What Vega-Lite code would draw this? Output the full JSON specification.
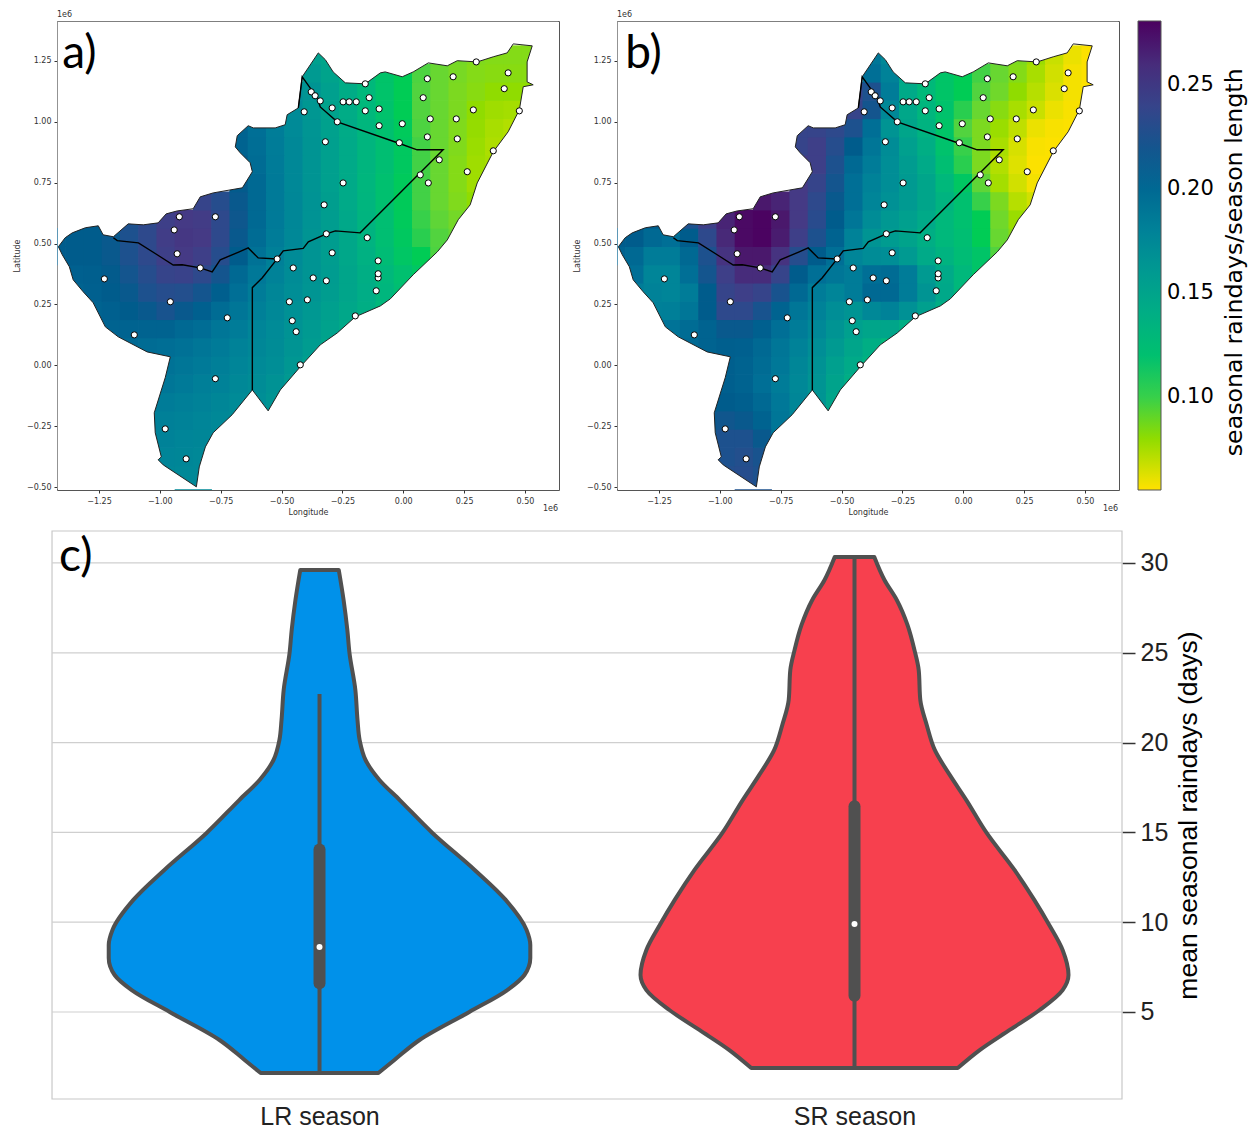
{
"$schema":"https://vega.github.io/schema/vega-lite/v6.json",
"padding":{"left":12,"top":10,"right":0,"bottom":0},
"background":"white",
"config":{"view":{"stroke":"#555555","strokeWidth":1},"axis":{"labelFont":"DejaVu Sans","titleFont":"DejaVu Sans"},"legend":{"labelFont":"DejaVu Sans","titleFont":"DejaVu Sans"}},
"datasets":{
"stations":[{"x":-0.920,"y":0.610},{"x":-0.772,"y":0.610},{"x":-0.941,"y":0.556},{"x":-0.929,"y":0.458},{"x":-0.834,"y":0.400},{"x":-0.518,"y":0.437},{"x":-0.452,"y":0.400},{"x":-1.228,"y":0.355},{"x":-0.957,"y":0.261},{"x":-0.723,"y":0.195},{"x":-1.105,"y":0.125},{"x":-0.772,"y":-0.055},{"x":-0.978,"y":-0.261},{"x":-0.892,"y":-0.384},{"x":-0.370,"y":0.359},{"x":-0.316,"y":0.347},{"x":-0.468,"y":0.261},{"x":-0.394,"y":0.269},{"x":-0.456,"y":0.183},{"x":-0.440,"y":0.138},{"x":-0.423,"y":0.002},{"x":-0.292,"y":0.462},{"x":-0.316,"y":0.540},{"x":-0.148,"y":0.524},{"x":-0.103,"y":0.429},{"x":-0.103,"y":0.359},{"x":-0.103,"y":0.376},{"x":-0.111,"y":0.306},{"x":-0.197,"y":0.203},{"x":-0.378,"y":1.123},{"x":-0.362,"y":1.107},{"x":-0.341,"y":1.086},{"x":-0.407,"y":1.041},{"x":-0.292,"y":1.057},{"x":-0.247,"y":1.082},{"x":-0.222,"y":1.082},{"x":-0.193,"y":1.082},{"x":-0.156,"y":1.156},{"x":-0.140,"y":1.099},{"x":-0.156,"y":1.045},{"x":-0.099,"y":1.053},{"x":-0.271,"y":1.000},{"x":-0.099,"y":0.984},{"x":-0.004,"y":0.992},{"x":-0.016,"y":0.914},{"x":-0.320,"y":0.918},{"x":0.099,"y":1.177},{"x":0.082,"y":1.099},{"x":0.111,"y":1.012},{"x":0.099,"y":0.938},{"x":0.205,"y":1.185},{"x":0.218,"y":1.012},{"x":0.288,"y":1.049},{"x":0.222,"y":0.930},{"x":0.300,"y":1.246},{"x":0.431,"y":1.201},{"x":0.415,"y":1.136},{"x":0.477,"y":1.045},{"x":0.370,"y":0.881},{"x":0.148,"y":0.844},{"x":0.070,"y":0.782},{"x":0.103,"y":0.749},{"x":0.263,"y":0.795},{"x":-0.247,"y":0.749},{"x":-0.325,"y":0.659}],
"outline":[{"i":0,"p":"o","x":-1.42,"y":0.487},{"i":1,"p":"c","x":-1.417,"y":0.487},{"i":2,"p":"c","x":-1.389,"y":0.524},{"i":3,"p":"c","x":-1.36,"y":0.544},{"i":4,"p":"c","x":-1.306,"y":0.565},{"i":5,"p":"c","x":-1.253,"y":0.573},{"i":6,"p":"c","x":-1.233,"y":0.536},{"i":7,"p":"c","x":-1.191,"y":0.528},{"i":8,"p":"c","x":-1.13,"y":0.581},{"i":9,"p":"c","x":-1.068,"y":0.577},{"i":10,"p":"c","x":-1.007,"y":0.585},{"i":11,"p":"c","x":-0.974,"y":0.622},{"i":12,"p":"c","x":-0.929,"y":0.634},{"i":13,"p":"c","x":-0.863,"y":0.643},{"i":14,"p":"c","x":-0.834,"y":0.692},{"i":15,"p":"c","x":-0.781,"y":0.708},{"i":16,"p":"c","x":-0.661,"y":0.729},{"i":17,"p":"c","x":-0.62,"y":0.795},{"i":18,"p":"c","x":-0.629,"y":0.832},{"i":19,"p":"c","x":-0.67,"y":0.873},{"i":20,"p":"c","x":-0.69,"y":0.897},{"i":21,"p":"c","x":-0.682,"y":0.943},{"i":22,"p":"c","x":-0.637,"y":0.984},{"i":23,"p":"c","x":-0.616,"y":0.975},{"i":24,"p":"c","x":-0.526,"y":0.975},{"i":25,"p":"c","x":-0.485,"y":0.988},{"i":26,"p":"c","x":-0.477,"y":1.029},{"i":27,"p":"c","x":-0.431,"y":1.057},{"i":28,"p":"c","x":-0.415,"y":1.185},{"i":29,"p":"c","x":-0.349,"y":1.283},{"i":30,"p":"c","x":-0.32,"y":1.255},{"i":31,"p":"c","x":-0.288,"y":1.205},{"i":32,"p":"c","x":-0.238,"y":1.16},{"i":33,"p":"c","x":-0.156,"y":1.156},{"i":34,"p":"c","x":-0.094,"y":1.201},{"i":35,"p":"c","x":-0.074,"y":1.205},{"i":36,"p":"c","x":-0.004,"y":1.185},{"i":37,"p":"c","x":0.041,"y":1.205},{"i":38,"p":"c","x":0.103,"y":1.242},{"i":39,"p":"c","x":0.181,"y":1.23},{"i":40,"p":"c","x":0.222,"y":1.251},{"i":41,"p":"c","x":0.304,"y":1.246},{"i":42,"p":"c","x":0.37,"y":1.267},{"i":43,"p":"c","x":0.427,"y":1.283},{"i":44,"p":"c","x":0.452,"y":1.32},{"i":45,"p":"c","x":0.53,"y":1.312},{"i":46,"p":"c","x":0.509,"y":1.246},{"i":47,"p":"c","x":0.509,"y":1.164},{"i":48,"p":"c","x":0.534,"y":1.152},{"i":49,"p":"c","x":0.493,"y":1.144},{"i":50,"p":"c","x":0.477,"y":1.049},{"i":51,"p":"c","x":0.431,"y":0.959},{"i":52,"p":"c","x":0.37,"y":0.877},{"i":53,"p":"c","x":0.304,"y":0.749},{"i":54,"p":"c","x":0.275,"y":0.659},{"i":55,"p":"c","x":0.226,"y":0.598},{"i":56,"p":"c","x":0.181,"y":0.515},{"i":57,"p":"c","x":0.14,"y":0.466},{"i":58,"p":"c","x":0.041,"y":0.372},{"i":59,"p":"c","x":-0.053,"y":0.273},{"i":60,"p":"c","x":-0.094,"y":0.244},{"i":61,"p":"c","x":-0.197,"y":0.199},{"i":62,"p":"c","x":-0.271,"y":0.133},{"i":63,"p":"c","x":-0.341,"y":0.084},{"i":64,"p":"c","x":-0.423,"y":-0.006},{"i":65,"p":"c","x":-0.505,"y":-0.101},{"i":66,"p":"c","x":-0.555,"y":-0.187},{"i":67,"p":"c","x":-0.62,"y":-0.101},{"i":68,"p":"c","x":-0.703,"y":-0.203},{"i":69,"p":"c","x":-0.781,"y":-0.277},{"i":70,"p":"c","x":-0.813,"y":-0.335},{"i":71,"p":"c","x":-0.838,"y":-0.417},{"i":72,"p":"c","x":-0.85,"y":-0.499},{"i":73,"p":"c","x":-0.986,"y":-0.409},{"i":74,"p":"c","x":-1.007,"y":-0.388},{"i":75,"p":"c","x":-0.994,"y":-0.376},{"i":76,"p":"c","x":-1.019,"y":-0.277},{"i":77,"p":"c","x":-1.023,"y":-0.195},{"i":78,"p":"c","x":-0.978,"y":-0.051},{"i":79,"p":"c","x":-0.957,"y":0.035},{"i":80,"p":"c","x":-1.052,"y":0.055},{"i":81,"p":"c","x":-1.171,"y":0.117},{"i":82,"p":"c","x":-1.224,"y":0.158},{"i":83,"p":"c","x":-1.274,"y":0.257},{"i":84,"p":"c","x":-1.315,"y":0.302},{"i":85,"p":"c","x":-1.356,"y":0.351},{"i":86,"p":"c","x":-1.372,"y":0.405},{"i":87,"p":"c","x":-1.401,"y":0.454},{"i":88,"p":"c","x":-1.417,"y":0.487},{"i":89,"p":"o","x":-1.42,"y":0.487},{"i":90,"p":"o","x":-1.42,"y":-0.509},{"i":91,"p":"o","x":0.637,"y":-0.509},{"i":92,"p":"o","x":0.637,"y":1.411},{"i":93,"p":"o","x":-1.42,"y":1.411},{"i":94,"p":"o","x":-1.42,"y":0.487}],
"borders":[{"g":"A","i":1,"x":-1.191,"y":0.524},{"g":"A","i":2,"x":-1.175,"y":0.512},{"g":"A","i":3,"x":-1.088,"y":0.503},{"g":"A","i":4,"x":-1.011,"y":0.454},{"g":"A","i":5,"x":-0.945,"y":0.412},{"g":"A","i":6,"x":-0.908,"y":0.413},{"g":"A","i":7,"x":-0.834,"y":0.4},{"g":"A","i":8,"x":-0.785,"y":0.384},{"g":"A","i":9,"x":-0.752,"y":0.433},{"g":"A","i":10,"x":-0.674,"y":0.466},{"g":"A","i":11,"x":-0.637,"y":0.482},{"g":"A","i":12,"x":-0.596,"y":0.441},{"g":"A","i":13,"x":-0.518,"y":0.437},{"g":"A","i":14,"x":-0.493,"y":0.47},{"g":"A","i":15,"x":-0.411,"y":0.48},{"g":"A","i":16,"x":-0.39,"y":0.507},{"g":"A","i":17,"x":-0.316,"y":0.54},{"g":"A","i":18,"x":-0.279,"y":0.552},{"g":"A","i":19,"x":-0.177,"y":0.544},{"g":"A","i":20,"x":0.164,"y":0.885},{"g":"A","i":21,"x":0.057,"y":0.885},{"g":"A","i":22,"x":-0.021,"y":0.913},{"g":"A","i":23,"x":-0.271,"y":1.0},{"g":"A","i":24,"x":-0.341,"y":1.061},{"g":"A","i":25,"x":-0.353,"y":1.098},{"g":"A","i":26,"x":-0.415,"y":1.185},{"g":"A","i":27,"x":-0.431,"y":1.057},{"g":"B","i":1,"x":-0.518,"y":0.437},{"g":"B","i":2,"x":-0.579,"y":0.36},{"g":"B","i":3,"x":-0.62,"y":0.319},{"g":"B","i":4,"x":-0.62,"y":-0.101}],
"grid":[{"x":-0.9,"y":-0.525,"a":0.175,"b":0.225},{"x":-0.825,"y":-0.525,"a":0.175,"b":0.225},
{"x":-0.975,"y":-0.45,"a":0.176,"b":0.228},{"x":-0.9,"y":-0.45,"a":0.175,"b":0.23},{"x":-0.825,"y":-0.45,"a":0.175,"b":0.225},
{"x":-1.05,"y":-0.375,"a":0.179,"b":0.222},{"x":-0.975,"y":-0.375,"a":0.178,"b":0.225},{"x":-0.9,"y":-0.375,"a":0.177,"b":0.228},{"x":-0.825,"y":-0.375,"a":0.175,"b":0.222},
{"x":-1.05,"y":-0.3,"a":0.18,"b":0.215},{"x":-0.975,"y":-0.3,"a":0.18,"b":0.225},{"x":-0.9,"y":-0.3,"a":0.178,"b":0.225},{"x":-0.825,"y":-0.3,"a":0.177,"b":0.215},{"x":-0.75,"y":-0.3,"a":0.175,"b":0.19},
{"x":-1.05,"y":-0.225,"a":0.182,"b":0.215},{"x":-0.975,"y":-0.225,"a":0.182,"b":0.218},{"x":-0.9,"y":-0.225,"a":0.18,"b":0.215},{"x":-0.825,"y":-0.225,"a":0.178,"b":0.205},{"x":-0.75,"y":-0.225,"a":0.175,"b":0.19},{"x":-0.675,"y":-0.225,"a":0.172,"b":0.178},
{"x":-1.05,"y":-0.15,"a":0.185,"b":0.21},{"x":-0.975,"y":-0.15,"a":0.185,"b":0.21},{"x":-0.9,"y":-0.15,"a":0.183,"b":0.208},{"x":-0.825,"y":-0.15,"a":0.18,"b":0.2},{"x":-0.75,"y":-0.15,"a":0.177,"b":0.188},{"x":-0.675,"y":-0.15,"a":0.173,"b":0.177},{"x":-0.6,"y":-0.15,"a":0.17,"b":0.165},{"x":-0.525,"y":-0.15,"a":0.165,"b":0.15},
{"x":-0.975,"y":-0.075,"a":0.19,"b":0.208},{"x":-0.9,"y":-0.075,"a":0.187,"b":0.205},{"x":-0.825,"y":-0.075,"a":0.183,"b":0.195},{"x":-0.75,"y":-0.075,"a":0.18,"b":0.185},{"x":-0.675,"y":-0.075,"a":0.175,"b":0.175},{"x":-0.6,"y":-0.075,"a":0.172,"b":0.165},{"x":-0.525,"y":-0.075,"a":0.167,"b":0.152},{"x":-0.45,"y":-0.075,"a":0.16,"b":0.14},
{"x":-0.975,"y":0,"a":0.193,"b":0.208},{"x":-0.9,"y":0,"a":0.19,"b":0.205},{"x":-0.825,"y":0,"a":0.187,"b":0.198},{"x":-0.75,"y":0,"a":0.183,"b":0.188},{"x":-0.675,"y":0,"a":0.178,"b":0.177},{"x":-0.6,"y":0,"a":0.174,"b":0.167},{"x":-0.525,"y":0,"a":0.17,"b":0.155},{"x":-0.45,"y":0,"a":0.163,"b":0.145},{"x":-0.375,"y":0,"a":0.155,"b":0.135},
{"x":-1.2,"y":0.075,"a":0.2,"b":0.2},{"x":-1.125,"y":0.075,"a":0.2,"b":0.2},{"x":-1.05,"y":0.075,"a":0.198,"b":0.205},{"x":-0.975,"y":0.075,"a":0.196,"b":0.208},{"x":-0.9,"y":0.075,"a":0.194,"b":0.207},{"x":-0.825,"y":0.075,"a":0.19,"b":0.2},{"x":-0.75,"y":0.075,"a":0.186,"b":0.19},{"x":-0.675,"y":0.075,"a":0.18,"b":0.18},{"x":-0.6,"y":0.075,"a":0.176,"b":0.17},{"x":-0.525,"y":0.075,"a":0.172,"b":0.16},{"x":-0.45,"y":0.075,"a":0.165,"b":0.15},{"x":-0.375,"y":0.075,"a":0.158,"b":0.14},{"x":-0.3,"y":0.075,"a":0.15,"b":0.13},
{"x":-1.2,"y":0.15,"a":0.205,"b":0.192},{"x":-1.125,"y":0.15,"a":0.205,"b":0.198},{"x":-1.05,"y":0.15,"a":0.205,"b":0.205},{"x":-0.975,"y":0.15,"a":0.205,"b":0.215},{"x":-0.9,"y":0.15,"a":0.2,"b":0.215},{"x":-0.825,"y":0.15,"a":0.197,"b":0.207},{"x":-0.75,"y":0.15,"a":0.19,"b":0.195},{"x":-0.675,"y":0.15,"a":0.185,"b":0.185},{"x":-0.6,"y":0.15,"a":0.178,"b":0.175},{"x":-0.525,"y":0.15,"a":0.173,"b":0.165},{"x":-0.45,"y":0.15,"a":0.166,"b":0.155},{"x":-0.375,"y":0.15,"a":0.16,"b":0.15},{"x":-0.3,"y":0.15,"a":0.153,"b":0.15},{"x":-0.225,"y":0.15,"a":0.146,"b":0.14},
{"x":-1.275,"y":0.225,"a":0.205,"b":0.182},{"x":-1.2,"y":0.225,"a":0.207,"b":0.183},{"x":-1.125,"y":0.225,"a":0.21,"b":0.19},{"x":-1.05,"y":0.225,"a":0.215,"b":0.21},{"x":-0.975,"y":0.225,"a":0.222,"b":0.235},{"x":-0.9,"y":0.225,"a":0.215,"b":0.235},{"x":-0.825,"y":0.225,"a":0.207,"b":0.222},{"x":-0.75,"y":0.225,"a":0.198,"b":0.205},{"x":-0.675,"y":0.225,"a":0.19,"b":0.19},{"x":-0.6,"y":0.225,"a":0.182,"b":0.18},{"x":-0.525,"y":0.225,"a":0.175,"b":0.17},{"x":-0.45,"y":0.225,"a":0.168,"b":0.165},{"x":-0.375,"y":0.225,"a":0.162,"b":0.175},{"x":-0.3,"y":0.225,"a":0.155,"b":0.18},{"x":-0.225,"y":0.225,"a":0.148,"b":0.168},{"x":-0.15,"y":0.225,"a":0.14,"b":0.155},{"x":-0.075,"y":0.225,"a":0.13,"b":0.14},
{"x":-1.35,"y":0.3,"a":0.205,"b":0.185},{"x":-1.275,"y":0.3,"a":0.207,"b":0.18},{"x":-1.2,"y":0.3,"a":0.21,"b":0.178},{"x":-1.125,"y":0.3,"a":0.215,"b":0.185},{"x":-1.05,"y":0.3,"a":0.225,"b":0.21},{"x":-0.975,"y":0.3,"a":0.23,"b":0.24},{"x":-0.9,"y":0.3,"a":0.228,"b":0.245},{"x":-0.825,"y":0.3,"a":0.22,"b":0.24},{"x":-0.75,"y":0.3,"a":0.208,"b":0.222},{"x":-0.675,"y":0.3,"a":0.195,"b":0.2},{"x":-0.6,"y":0.3,"a":0.185,"b":0.185},{"x":-0.525,"y":0.3,"a":0.177,"b":0.178},{"x":-0.45,"y":0.3,"a":0.17,"b":0.185},{"x":-0.375,"y":0.3,"a":0.164,"b":0.2},{"x":-0.3,"y":0.3,"a":0.157,"b":0.2},{"x":-0.225,"y":0.3,"a":0.15,"b":0.185},{"x":-0.15,"y":0.3,"a":0.142,"b":0.165},{"x":-0.075,"y":0.3,"a":0.132,"b":0.147},{"x":0,"y":0.3,"a":0.122,"b":0.13},
{"x":-1.35,"y":0.375,"a":0.207,"b":0.195},{"x":-1.275,"y":0.375,"a":0.208,"b":0.178},{"x":-1.2,"y":0.375,"a":0.212,"b":0.178},{"x":-1.125,"y":0.375,"a":0.22,"b":0.195},{"x":-1.05,"y":0.375,"a":0.23,"b":0.22},{"x":-0.975,"y":0.375,"a":0.24,"b":0.245},{"x":-0.9,"y":0.375,"a":0.242,"b":0.26},{"x":-0.825,"y":0.375,"a":0.235,"b":0.26},{"x":-0.75,"y":0.375,"a":0.22,"b":0.24},{"x":-0.675,"y":0.375,"a":0.2,"b":0.21},{"x":-0.6,"y":0.375,"a":0.188,"b":0.195},{"x":-0.525,"y":0.375,"a":0.18,"b":0.19},{"x":-0.45,"y":0.375,"a":0.172,"b":0.185},{"x":-0.375,"y":0.375,"a":0.165,"b":0.195},{"x":-0.3,"y":0.375,"a":0.158,"b":0.198},{"x":-0.225,"y":0.375,"a":0.15,"b":0.185},{"x":-0.15,"y":0.375,"a":0.14,"b":0.16},{"x":-0.075,"y":0.375,"a":0.13,"b":0.145},{"x":0,"y":0.375,"a":0.12,"b":0.13},{"x":0.075,"y":0.375,"a":0.112,"b":0.115},
{"x":-1.425,"y":0.45,"a":0.21,"b":0.205},{"x":-1.35,"y":0.45,"a":0.21,"b":0.2},{"x":-1.275,"y":0.45,"a":0.21,"b":0.185},{"x":-1.2,"y":0.45,"a":0.215,"b":0.185},{"x":-1.125,"y":0.45,"a":0.225,"b":0.2},{"x":-1.05,"y":0.45,"a":0.235,"b":0.225},{"x":-0.975,"y":0.45,"a":0.245,"b":0.255},{"x":-0.9,"y":0.45,"a":0.25,"b":0.272},{"x":-0.825,"y":0.45,"a":0.245,"b":0.272},{"x":-0.75,"y":0.45,"a":0.23,"b":0.255},{"x":-0.675,"y":0.45,"a":0.21,"b":0.23},{"x":-0.6,"y":0.45,"a":0.193,"b":0.21},{"x":-0.525,"y":0.45,"a":0.182,"b":0.195},{"x":-0.45,"y":0.45,"a":0.173,"b":0.178},{"x":-0.375,"y":0.45,"a":0.165,"b":0.172},{"x":-0.3,"y":0.45,"a":0.157,"b":0.17},{"x":-0.225,"y":0.45,"a":0.148,"b":0.16},{"x":-0.15,"y":0.45,"a":0.137,"b":0.145},{"x":-0.075,"y":0.45,"a":0.125,"b":0.135},{"x":0,"y":0.45,"a":0.113,"b":0.125},{"x":0.075,"y":0.45,"a":0.105,"b":0.115},{"x":0.15,"y":0.45,"a":0.096,"b":0.095},
{"x":-1.425,"y":0.525,"a":0.21,"b":0.21},{"x":-1.35,"y":0.525,"a":0.21,"b":0.21},{"x":-1.275,"y":0.525,"a":0.21,"b":0.2},{"x":-1.2,"y":0.525,"a":0.215,"b":0.195},{"x":-1.125,"y":0.525,"a":0.225,"b":0.21},{"x":-1.05,"y":0.525,"a":0.235,"b":0.235},{"x":-0.975,"y":0.525,"a":0.247,"b":0.262},{"x":-0.9,"y":0.525,"a":0.252,"b":0.278},{"x":-0.825,"y":0.525,"a":0.25,"b":0.28},{"x":-0.75,"y":0.525,"a":0.235,"b":0.27},{"x":-0.675,"y":0.525,"a":0.215,"b":0.245},{"x":-0.6,"y":0.525,"a":0.198,"b":0.225},{"x":-0.525,"y":0.525,"a":0.185,"b":0.205},{"x":-0.45,"y":0.525,"a":0.175,"b":0.18},{"x":-0.375,"y":0.525,"a":0.165,"b":0.165},{"x":-0.3,"y":0.525,"a":0.157,"b":0.158},{"x":-0.225,"y":0.525,"a":0.148,"b":0.152},{"x":-0.15,"y":0.525,"a":0.135,"b":0.14},{"x":-0.075,"y":0.525,"a":0.122,"b":0.13},{"x":0,"y":0.525,"a":0.11,"b":0.122},{"x":0.075,"y":0.525,"a":0.102,"b":0.105},{"x":0.15,"y":0.525,"a":0.095,"b":0.09},{"x":0.225,"y":0.525,"a":0.09,"b":0.082},
{"x":-1.275,"y":0.6,"a":0.21,"b":0.21},{"x":-1.2,"y":0.6,"a":0.215,"b":0.215},{"x":-1.125,"y":0.6,"a":0.225,"b":0.225},{"x":-1.05,"y":0.6,"a":0.235,"b":0.245},{"x":-0.975,"y":0.6,"a":0.245,"b":0.265},{"x":-0.9,"y":0.6,"a":0.25,"b":0.278},{"x":-0.825,"y":0.6,"a":0.248,"b":0.28},{"x":-0.75,"y":0.6,"a":0.235,"b":0.272},{"x":-0.675,"y":0.6,"a":0.217,"b":0.25},{"x":-0.6,"y":0.6,"a":0.2,"b":0.232},{"x":-0.525,"y":0.6,"a":0.187,"b":0.21},{"x":-0.45,"y":0.6,"a":0.176,"b":0.19},{"x":-0.375,"y":0.6,"a":0.166,"b":0.172},{"x":-0.3,"y":0.6,"a":0.157,"b":0.162},{"x":-0.225,"y":0.6,"a":0.147,"b":0.155},{"x":-0.15,"y":0.6,"a":0.134,"b":0.145},{"x":-0.075,"y":0.6,"a":0.122,"b":0.13},{"x":0,"y":0.6,"a":0.108,"b":0.12},{"x":0.075,"y":0.6,"a":0.1,"b":0.105},{"x":0.15,"y":0.6,"a":0.092,"b":0.088},{"x":0.225,"y":0.6,"a":0.087,"b":0.078},
{"x":-0.825,"y":0.675,"a":0.24,"b":0.272},{"x":-0.75,"y":0.675,"a":0.23,"b":0.265},{"x":-0.675,"y":0.675,"a":0.215,"b":0.25},{"x":-0.6,"y":0.675,"a":0.2,"b":0.235},{"x":-0.525,"y":0.675,"a":0.187,"b":0.215},{"x":-0.45,"y":0.675,"a":0.176,"b":0.195},{"x":-0.375,"y":0.675,"a":0.166,"b":0.178},{"x":-0.3,"y":0.675,"a":0.156,"b":0.168},{"x":-0.225,"y":0.675,"a":0.145,"b":0.16},{"x":-0.15,"y":0.675,"a":0.133,"b":0.15},{"x":-0.075,"y":0.675,"a":0.12,"b":0.135},{"x":0,"y":0.675,"a":0.107,"b":0.12},{"x":0.075,"y":0.675,"a":0.098,"b":0.1},{"x":0.15,"y":0.675,"a":0.09,"b":0.085},{"x":0.225,"y":0.675,"a":0.084,"b":0.072},{"x":0.3,"y":0.675,"a":0.08,"b":0.066},
{"x":-0.675,"y":0.75,"a":0.212,"b":0.25},{"x":-0.6,"y":0.75,"a":0.2,"b":0.24},{"x":-0.525,"y":0.75,"a":0.187,"b":0.22},{"x":-0.45,"y":0.75,"a":0.175,"b":0.195},{"x":-0.375,"y":0.75,"a":0.165,"b":0.18},{"x":-0.3,"y":0.75,"a":0.155,"b":0.17},{"x":-0.225,"y":0.75,"a":0.145,"b":0.16},{"x":-0.15,"y":0.75,"a":0.132,"b":0.15},{"x":-0.075,"y":0.75,"a":0.12,"b":0.13},{"x":0,"y":0.75,"a":0.108,"b":0.112},{"x":0.075,"y":0.75,"a":0.098,"b":0.092},{"x":0.15,"y":0.75,"a":0.09,"b":0.076},{"x":0.225,"y":0.75,"a":0.083,"b":0.066},{"x":0.3,"y":0.75,"a":0.077,"b":0.058},
{"x":-0.675,"y":0.825,"a":0.21,"b":0.25},{"x":-0.6,"y":0.825,"a":0.198,"b":0.245},{"x":-0.525,"y":0.825,"a":0.186,"b":0.225},{"x":-0.45,"y":0.825,"a":0.175,"b":0.2},{"x":-0.375,"y":0.825,"a":0.165,"b":0.185},{"x":-0.3,"y":0.825,"a":0.155,"b":0.17},{"x":-0.225,"y":0.825,"a":0.145,"b":0.158},{"x":-0.15,"y":0.825,"a":0.133,"b":0.145},{"x":-0.075,"y":0.825,"a":0.122,"b":0.122},{"x":0,"y":0.825,"a":0.11,"b":0.102},{"x":0.075,"y":0.825,"a":0.098,"b":0.085},{"x":0.15,"y":0.825,"a":0.09,"b":0.073},{"x":0.225,"y":0.825,"a":0.083,"b":0.063},{"x":0.3,"y":0.825,"a":0.077,"b":0.056},{"x":0.375,"y":0.825,"a":0.075,"b":0.056},
{"x":-0.675,"y":0.9,"a":0.205,"b":0.24},{"x":-0.6,"y":0.9,"a":0.196,"b":0.245},{"x":-0.525,"y":0.9,"a":0.185,"b":0.23},{"x":-0.45,"y":0.9,"a":0.175,"b":0.21},{"x":-0.375,"y":0.9,"a":0.165,"b":0.19},{"x":-0.3,"y":0.9,"a":0.155,"b":0.172},{"x":-0.225,"y":0.9,"a":0.145,"b":0.155},{"x":-0.15,"y":0.9,"a":0.133,"b":0.14},{"x":-0.075,"y":0.9,"a":0.122,"b":0.118},{"x":0,"y":0.9,"a":0.11,"b":0.1},{"x":0.075,"y":0.9,"a":0.098,"b":0.085},{"x":0.15,"y":0.9,"a":0.09,"b":0.075},{"x":0.225,"y":0.9,"a":0.084,"b":0.065},{"x":0.3,"y":0.9,"a":0.078,"b":0.057},{"x":0.375,"y":0.9,"a":0.074,"b":0.056},
{"x":-0.675,"y":0.975,"a":0.205,"b":0.24},{"x":-0.6,"y":0.975,"a":0.195,"b":0.24},{"x":-0.525,"y":0.975,"a":0.184,"b":0.235},{"x":-0.45,"y":0.975,"a":0.174,"b":0.225},{"x":-0.375,"y":0.975,"a":0.164,"b":0.195},{"x":-0.3,"y":0.975,"a":0.154,"b":0.165},{"x":-0.225,"y":0.975,"a":0.144,"b":0.15},{"x":-0.15,"y":0.975,"a":0.132,"b":0.135},{"x":-0.075,"y":0.975,"a":0.12,"b":0.115},{"x":0,"y":0.975,"a":0.108,"b":0.095},{"x":0.075,"y":0.975,"a":0.096,"b":0.085},{"x":0.15,"y":0.975,"a":0.09,"b":0.078},{"x":0.225,"y":0.975,"a":0.084,"b":0.07},{"x":0.3,"y":0.975,"a":0.079,"b":0.06},{"x":0.375,"y":0.975,"a":0.075,"b":0.057},{"x":0.45,"y":0.975,"a":0.073,"b":0.056},
{"x":-0.45,"y":1.05,"a":0.173,"b":0.24},{"x":-0.375,"y":1.05,"a":0.163,"b":0.22},{"x":-0.3,"y":1.05,"a":0.153,"b":0.175},{"x":-0.225,"y":1.05,"a":0.143,"b":0.148},{"x":-0.15,"y":1.05,"a":0.13,"b":0.132},{"x":-0.075,"y":1.05,"a":0.118,"b":0.118},{"x":0,"y":1.05,"a":0.105,"b":0.102},{"x":0.075,"y":1.05,"a":0.095,"b":0.09},{"x":0.15,"y":1.05,"a":0.09,"b":0.082},{"x":0.225,"y":1.05,"a":0.085,"b":0.075},{"x":0.3,"y":1.05,"a":0.08,"b":0.068},{"x":0.375,"y":1.05,"a":0.077,"b":0.06},{"x":0.45,"y":1.05,"a":0.076,"b":0.057},
{"x":-0.45,"y":1.125,"a":0.172,"b":0.24},{"x":-0.375,"y":1.125,"a":0.165,"b":0.225},{"x":-0.3,"y":1.125,"a":0.155,"b":0.185},{"x":-0.225,"y":1.125,"a":0.143,"b":0.145},{"x":-0.15,"y":1.125,"a":0.13,"b":0.128},{"x":-0.075,"y":1.125,"a":0.117,"b":0.115},{"x":0,"y":1.125,"a":0.105,"b":0.105},{"x":0.075,"y":1.125,"a":0.095,"b":0.095},{"x":0.15,"y":1.125,"a":0.09,"b":0.088},{"x":0.225,"y":1.125,"a":0.085,"b":0.08},{"x":0.3,"y":1.125,"a":0.082,"b":0.072},{"x":0.375,"y":1.125,"a":0.08,"b":0.064},{"x":0.45,"y":1.125,"a":0.08,"b":0.058},{"x":0.525,"y":1.125,"a":0.08,"b":0.056},
{"x":-0.375,"y":1.2,"a":0.16,"b":0.195},{"x":-0.3,"y":1.2,"a":0.152,"b":0.18},{"x":-0.225,"y":1.2,"a":0.143,"b":0.15},{"x":-0.15,"y":1.2,"a":0.13,"b":0.13},{"x":-0.075,"y":1.2,"a":0.116,"b":0.115},{"x":0,"y":1.2,"a":0.105,"b":0.105},{"x":0.075,"y":1.2,"a":0.096,"b":0.098},{"x":0.15,"y":1.2,"a":0.09,"b":0.09},{"x":0.225,"y":1.2,"a":0.086,"b":0.083},{"x":0.3,"y":1.2,"a":0.083,"b":0.075},{"x":0.375,"y":1.2,"a":0.082,"b":0.066},{"x":0.45,"y":1.2,"a":0.082,"b":0.058},{"x":0.525,"y":1.2,"a":0.082,"b":0.056},
{"x":-0.375,"y":1.275,"a":0.155,"b":0.19},{"x":-0.3,"y":1.275,"a":0.15,"b":0.175},{"x":0.15,"y":1.275,"a":0.09,"b":0.09},{"x":0.225,"y":1.275,"a":0.087,"b":0.085},{"x":0.3,"y":1.275,"a":0.084,"b":0.078},{"x":0.375,"y":1.275,"a":0.083,"b":0.068},{"x":0.45,"y":1.275,"a":0.083,"b":0.06},{"x":0.525,"y":1.275,"a":0.083,"b":0.056}],
"violinLR":[{"days":29.61,"lo":-0.036,"hi":0.036},{"days":27.94,"lo":-0.045,"hi":0.045},{"days":26.27,"lo":-0.052,"hi":0.052},{"days":24.99,"lo":-0.056,"hi":0.056},{"days":22.93,"lo":-0.067,"hi":0.067},{"days":21.26,"lo":-0.071,"hi":0.071},{"days":20.14,"lo":-0.075,"hi":0.075},{"days":19.03,"lo":-0.086,"hi":0.086},{"days":17.92,"lo":-0.112,"hi":0.112},{"days":16.8,"lo":-0.15,"hi":0.15},{"days":14.97,"lo":-0.211,"hi":0.211},{"days":12.91,"lo":-0.29,"hi":0.29},{"days":11.24,"lo":-0.348,"hi":0.348},{"days":9.57,"lo":-0.387,"hi":0.387},{"days":8.73,"lo":-0.394,"hi":0.394},{"days":8.01,"lo":-0.394,"hi":0.394},{"days":7.06,"lo":-0.383,"hi":0.383},{"days":6.22,"lo":-0.351,"hi":0.351},{"days":5,"lo":-0.28,"hi":0.28},{"days":3.44,"lo":-0.187,"hi":0.187},{"days":2.33,"lo":-0.14,"hi":0.14},{"days":1.6,"lo":-0.11,"hi":0.11}],
"violinSR":[{"days":30.33,"lo":0.963,"hi":1.037},{"days":29.05,"lo":0.944,"hi":1.056},{"days":27.94,"lo":0.921,"hi":1.079},{"days":26.55,"lo":0.901,"hi":1.099},{"days":25.16,"lo":0.888,"hi":1.112},{"days":24.04,"lo":0.88,"hi":1.12},{"days":22.37,"lo":0.877,"hi":1.123},{"days":20.98,"lo":0.865,"hi":1.135},{"days":19.59,"lo":0.85,"hi":1.15},{"days":18.2,"lo":0.822,"hi":1.178},{"days":16.8,"lo":0.791,"hi":1.209},{"days":14.97,"lo":0.753,"hi":1.247},{"days":12.91,"lo":0.701,"hi":1.299},{"days":11.24,"lo":0.664,"hi":1.336},{"days":9.84,"lo":0.636,"hi":1.364},{"days":8.45,"lo":0.611,"hi":1.389},{"days":7.06,"lo":0.6,"hi":1.4},{"days":6.22,"lo":0.611,"hi":1.389},{"days":5.11,"lo":0.654,"hi":1.346},{"days":4,"lo":0.71,"hi":1.29},{"days":2.88,"lo":0.766,"hi":1.234},{"days":1.88,"lo":0.807,"hi":1.193}],
"box":[{"pos":0,"wlo":1.6,"whi":22.7,"q1":6.6,"q3":14.05,"med":8.62},{"pos":1,"wlo":1.88,"whi":30.33,"q1":5.9,"q3":16.45,"med":9.9}]
},
"resolve":{"scale":{"color":"independent"}},
"spacing":13,
"vconcat":[
{"hconcat":[
{"width":502,"height":469,
"layer":[
{"data":{"name":"grid"},"mark":{"type":"rect","width":19,"height":19,"clip":true},"encoding":{"x":{"field":"x","type":"quantitative","scale":{"domain":[-1.4226,0.64],"nice":false,"zero":false},"axis":{"values":[-1.25,-1,-0.75,-0.5,-0.25,0,0.25,0.5],"labelExpr":"replace(format(datum.value,'.2f'),'-','−')","title":"Longitude","titleFontSize":8,"titleFontWeight":"normal","titleColor":"#333333","labelFontSize":8,"labelColor":"#333333","grid":false,"domain":false,"tickColor":"#333333","tickSize":3,"labelPadding":4,"titlePadding":3,"labelFlush":false}},"y":{"field":"y","type":"quantitative","scale":{"domain":[-0.512,1.414],"nice":false,"zero":false},"axis":{"values":[-0.5,-0.25,0,0.25,0.5,0.75,1,1.25],"labelExpr":"replace(format(datum.value,'.2f'),'-','−')","title":"Latitude","titleFontSize":8,"titleFontWeight":"normal","titleColor":"#333333","labelFontSize":8,"labelColor":"#333333","grid":false,"domain":false,"tickColor":"#333333","tickSize":3,"labelPadding":3,"titlePadding":5}},"color":{"field":"a","type":"quantitative","legend":null,"scale":{"domain":[0.0553,0.08,0.105,0.15,0.21,0.25,0.281],"range":["#ffe100","#90dc00","#00cc55","#00a58a","#005c8c","#453a85","#4b0060"]}}}},
{"data":{"name":"outline"},"mark":{"type":"line","fill":"white","strokeWidth":0,"interpolate":"linear"},"encoding":{"x":{"field":"x","type":"quantitative"},"y":{"field":"y","type":"quantitative"},"order":{"field":"i"}}},
{"data":{"name":"outline"},"transform":[{"filter":"datum.p=='c'"}],"mark":{"type":"line","color":"#222222","strokeWidth":1},"encoding":{"x":{"field":"x","type":"quantitative"},"y":{"field":"y","type":"quantitative"},"order":{"field":"i"}}},
{"data":{"name":"borders"},"mark":{"type":"line","color":"black","strokeWidth":1.4},"encoding":{"x":{"field":"x","type":"quantitative"},"y":{"field":"y","type":"quantitative"},"detail":{"field":"g"},"order":{"field":"i"}}},
{"data":{"name":"stations"},"mark":{"type":"point","filled":true,"fill":"white","stroke":"black","strokeWidth":1,"size":38,"opacity":1},"encoding":{"x":{"field":"x","type":"quantitative"},"y":{"field":"y","type":"quantitative"}}},
{"data":{"values":[{"x":-1.401,"y":1.222,"t":"a)"}]},"mark":{"type":"text","font":"Lato","fontSize":46,"align":"left","baseline":"alphabetic","color":"black"},"encoding":{"x":{"field":"x","type":"quantitative"},"y":{"field":"y","type":"quantitative"},"text":{"field":"t"}}},
{"data":{"values":[{"x":-1.4226,"y":1.432,"t":"1e6"},{"x":0.574,"y":-0.6,"t":"1e6"}]},"mark":{"type":"text","font":"DejaVu Sans","fontSize":8,"align":"left","baseline":"alphabetic","color":"#333333"},"encoding":{"x":{"field":"x","type":"quantitative"},"y":{"field":"y","type":"quantitative"},"text":{"field":"t"}}}
]},
{"width":502,"height":469,
"layer":[
{"data":{"name":"grid"},"mark":{"type":"rect","width":19,"height":19,"clip":true},"encoding":{"x":{"field":"x","type":"quantitative","scale":{"domain":[-1.4226,0.64],"nice":false,"zero":false},"axis":{"values":[-1.25,-1,-0.75,-0.5,-0.25,0,0.25,0.5],"labelExpr":"replace(format(datum.value,'.2f'),'-','−')","title":"Longitude","titleFontSize":8,"titleFontWeight":"normal","titleColor":"#333333","labelFontSize":8,"labelColor":"#333333","grid":false,"domain":false,"tickColor":"#333333","tickSize":3,"labelPadding":4,"titlePadding":3,"labelFlush":false}},"y":{"field":"y","type":"quantitative","scale":{"domain":[-0.512,1.414],"nice":false,"zero":false},"axis":{"values":[-0.5,-0.25,0,0.25,0.5,0.75,1,1.25],"labelExpr":"replace(format(datum.value,'.2f'),'-','−')","title":"Latitude","titleFontSize":8,"titleFontWeight":"normal","titleColor":"#333333","labelFontSize":8,"labelColor":"#333333","grid":false,"domain":false,"tickColor":"#333333","tickSize":3,"labelPadding":3,"titlePadding":5}},"color":{"field":"b","type":"quantitative","scale":{"domain":[0.0553,0.08,0.105,0.15,0.21,0.25,0.281],"range":["#ffe100","#90dc00","#00cc55","#00a58a","#005c8c","#453a85","#4b0060"]},"legend":{"title":null,"offset":19,"values":[0.1,0.15,0.2,0.25],"format":".2f","labelFontSize":21,"labelColor":"black","labelOffset":6,"gradientLength":469,"gradientThickness":23,"gradientStrokeColor":"#555555","gradientStrokeWidth":1}}}},
{"data":{"name":"outline"},"mark":{"type":"line","fill":"white","strokeWidth":0},"encoding":{"x":{"field":"x","type":"quantitative"},"y":{"field":"y","type":"quantitative"},"order":{"field":"i"}}},
{"data":{"name":"outline"},"transform":[{"filter":"datum.p=='c'"}],"mark":{"type":"line","color":"#222222","strokeWidth":1},"encoding":{"x":{"field":"x","type":"quantitative"},"y":{"field":"y","type":"quantitative"},"order":{"field":"i"}}},
{"data":{"name":"borders"},"mark":{"type":"line","color":"black","strokeWidth":1.4},"encoding":{"x":{"field":"x","type":"quantitative"},"y":{"field":"y","type":"quantitative"},"detail":{"field":"g"},"order":{"field":"i"}}},
{"data":{"name":"stations"},"mark":{"type":"point","filled":true,"fill":"white","stroke":"black","strokeWidth":1,"size":38,"opacity":1},"encoding":{"x":{"field":"x","type":"quantitative"},"y":{"field":"y","type":"quantitative"}}},
{"data":{"values":[{"x":-1.389,"y":1.222,"t":"b)"}]},"mark":{"type":"text","font":"Lato","fontSize":46,"align":"left","baseline":"alphabetic","color":"black"},"encoding":{"x":{"field":"x","type":"quantitative"},"y":{"field":"y","type":"quantitative"},"text":{"field":"t"}}},
{"data":{"values":[{"x":-1.4226,"y":1.432,"t":"1e6"},{"x":0.574,"y":-0.6,"t":"1e6"}]},"mark":{"type":"text","font":"DejaVu Sans","fontSize":8,"align":"left","baseline":"alphabetic","color":"#333333"},"encoding":{"x":{"field":"x","type":"quantitative"},"y":{"field":"y","type":"quantitative"},"text":{"field":"t"}}},
{"data":{"values":[{"x":1.117,"y":0.423,"t":"seasonal raindays/season length"}]},"mark":{"type":"text","font":"DejaVu Sans","fontSize":23.7,"angle":270,"align":"center","baseline":"middle","color":"black"},"encoding":{"x":{"field":"x","type":"quantitative"},"y":{"field":"y","type":"quantitative"},"text":{"field":"t"}}}
]}
],"spacing":58,"bounds":"flush","resolve":{"scale":{"color":"independent"}}},
{"width":1065,"height":568,
"view":{"stroke":null},
"layer":[
{"data":{"values":[{"l":-0.5,"r":1.5,"b":0.156,"t":31.78}]},"mark":{"type":"rect","fill":null,"stroke":"#c8c8c8","strokeWidth":1.2},"encoding":{"x":{"field":"l","type":"quantitative","scale":{"domain":[-0.4907,1.5],"nice":false,"zero":false},"axis":{"values":[0,1],"labelExpr":"datum.value==0?'LR season':'SR season'","title":null,"grid":false,"domain":false,"ticks":false,"labelFont":"Liberation Sans","labelFontSize":25,"labelColor":"#222222","labelPadding":5}},"x2":{"field":"r"},"y":{"field":"b","type":"quantitative","scale":{"domain":[0.156,31.78],"nice":false,"zero":false},"axis":{"orient":"right","values":[5,10,15,20,25,30],"title":"mean seasonal raindays (days)","titleAngle":270,"titleFont":"Liberation Sans","titleFontSize":26.5,"titleFontWeight":"normal","titleColor":"black","labelFont":"Liberation Sans","labelFontSize":25,"labelColor":"#222222","tickSize":13,"tickColor":"#333333","tickWidth":1.5,"grid":false,"domain":false,"labelPadding":5,"titlePadding":35}},"y2":{"field":"t"}}},
{"data":{"values":[{"v":5,"l":-0.5,"r":1.5},{"v":10,"l":-0.5,"r":1.5},{"v":15,"l":-0.5,"r":1.5},{"v":20,"l":-0.5,"r":1.5},{"v":25,"l":-0.5,"r":1.5},{"v":30,"l":-0.5,"r":1.5}]},"mark":{"type":"rule","color":"#cfcfcf","strokeWidth":1.2},"encoding":{"x":{"field":"l","type":"quantitative"},"x2":{"field":"r"},"y":{"field":"v","type":"quantitative"}}},
{"data":{"name":"violinLR"},"mark":{"type":"area","orient":"horizontal","interpolate":"monotone","fill":"#0091ea","stroke":"#505050","strokeWidth":4,"strokeJoin":"round"},"encoding":{"y":{"field":"days","type":"quantitative"},"x":{"field":"lo","type":"quantitative"},"x2":{"field":"hi"}}},
{"data":{"name":"violinSR"},"mark":{"type":"area","orient":"horizontal","interpolate":"monotone","fill":"#f7404e","stroke":"#505050","strokeWidth":4,"strokeJoin":"round"},"encoding":{"y":{"field":"days","type":"quantitative"},"x":{"field":"lo","type":"quantitative"},"x2":{"field":"hi"}}},
{"data":{"name":"box"},"mark":{"type":"rule","color":"#505050","strokeWidth":4},"encoding":{"x":{"field":"pos","type":"quantitative"},"y":{"field":"wlo","type":"quantitative"},"y2":{"field":"whi"}}},
{"data":{"name":"box"},"mark":{"type":"rule","color":"#505050","strokeWidth":12,"strokeCap":"round"},"encoding":{"x":{"field":"pos","type":"quantitative"},"y":{"field":"q1","type":"quantitative"},"y2":{"field":"q3"}}},
{"data":{"name":"box"},"mark":{"type":"point","filled":true,"fill":"white","opacity":1,"size":36,"strokeWidth":0},"encoding":{"x":{"field":"pos","type":"quantitative"},"y":{"field":"med","type":"quantitative"}}},
{"data":{"values":[{"x":-0.487,"y":29.55,"t":"c)"}]},"mark":{"type":"text","font":"Lato","fontSize":46,"align":"left","baseline":"alphabetic","color":"black"},"encoding":{"x":{"field":"x","type":"quantitative"},"y":{"field":"y","type":"quantitative"},"text":{"field":"t"}}}
]}
]
}
